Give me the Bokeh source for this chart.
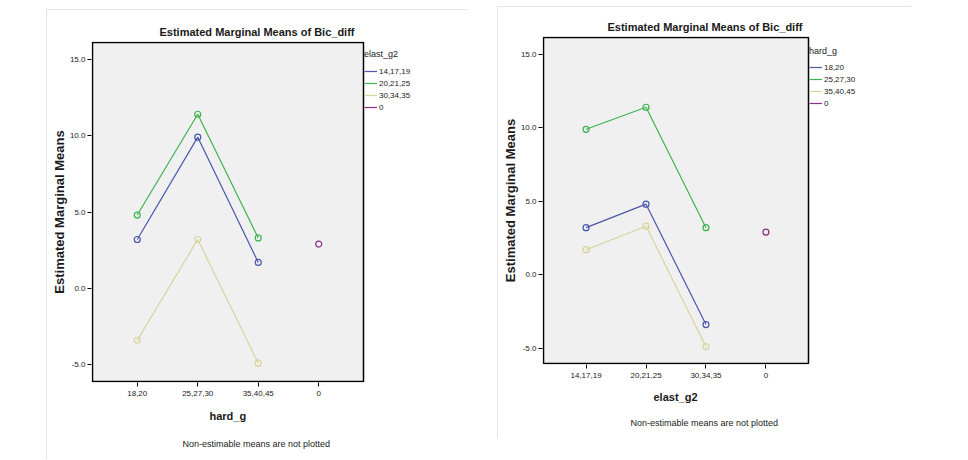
from bokeh.plotting import figure
from bokeh.models import (Range1d, FixedTicker, PrintfTickFormatter, Title,
                          Legend, LegendItem)
from bokeh.layouts import row
from bokeh.embed import file_html
from bokeh.resources import INLINE

# ---------------- data ----------------
hard_cats = ["18,20", "25,27,30", "35,40,45", "0"]
elast_cats = ["14,17,19", "20,21,25", "30,34,35", "0"]

# estimated marginal means, rows = elast_g2 group, columns = hard_g group
elast_14_17_19 = [3.2, 9.9, 1.7]
elast_20_21_25 = [4.8, 11.4, 3.3]
elast_30_34_35 = [-3.4, 3.2, -4.9]
elast_0_hard_0 = 2.9

y_ticks = [-5, 0, 5, 10, 15]

colors = ["#4a57ad", "#3db44f", "#d6d49c", "#8a2d82"]

SANS = "Liberation Sans"
TXT = "#1a1a1a"


def make_panel(fig, box, xr, yr, xcats, series, leg_title, leg_labels,
               xlabel, offs, stand, leg):
    fw, fh, margin = fig
    bl, br, bt, bb = box          # plot box edges, in figure pixels
    ppx = (br - bl) / (xr[1] - xr[0])
    ppy = (bb - bt) / (yr[1] - yr[0])
    fl, ft, fb = bl - 1, bt - 1, bb + 1
    p = figure(width=fw, height=fh, output_backend="svg",
               toolbar_location=None,
               x_range=Range1d(xr[0] - 1 / ppx, xr[1] + (fw - br) / ppx),
               y_range=Range1d(yr[0] - 1 / ppy, yr[1] + 1 / ppy),
               min_border_left=fl, min_border_right=0, min_border_top=ft,
               min_border_bottom=fh - fb)
    p.frame_align = False
    p.margin = margin
    p.styles = {"border-left": "1px solid #e4e4e4",
                "border-top": "1px solid #e4e4e4"}
    p.background_fill_color = "white"
    p.border_fill_color = "white"
    p.outline_line_color = None
    p.grid.visible = False

    # plot box (grey area with black frame)
    p.quad(left=xr[0], right=xr[1], bottom=yr[0], top=yr[1],
           fill_color="#f0f0f0", line_color="black", line_width=1.5,
           level="underlay")

    xs = [1, 2, 3, 4]
    items = []
    for i, vals in enumerate(series):
        xv = xs[:len(vals)] if len(vals) > 1 else [4]
        r = p.line(xv, vals, line_color=colors[i], line_width=1.2)
        p.scatter(xv, vals, marker="circle", size=6, fill_color=None,
                  line_color=colors[i], line_width=1.2)
        items.append(LegendItem(label=leg_labels[i], renderers=[r]))

    # axes
    p.xaxis.ticker = FixedTicker(ticks=xs)
    p.xaxis.major_label_overrides = {x: c for x, c in zip(xs, xcats)}
    p.yaxis.ticker = FixedTicker(ticks=y_ticks)
    p.yaxis.formatter = PrintfTickFormatter(format="%.1f")
    for ax in (p.xaxis, p.yaxis):
        ax.axis_line_color = None
        ax.major_tick_line_color = "black"
        ax.major_tick_in = 0
        ax.major_tick_out = 4
        ax.minor_tick_line_color = None
        ax.major_label_text_font = SANS
        ax.major_label_text_font_size = "8px"
        ax.major_label_text_color = TXT
    p.xaxis.major_label_standoff = 4
    p.yaxis.major_label_standoff = 2
    p.yaxis.axis_label = "Estimated Marginal Means"
    p.yaxis.axis_label_text_font = SANS
    p.yaxis.axis_label_text_font_style = "bold"
    p.yaxis.axis_label_text_font_size = "13px"
    p.yaxis.axis_label_standoff = 0
    p.yaxis.axis_label_text_color = TXT

    # title above
    p.title.text = "Estimated Marginal Means of Bic_diff"
    p.title.align = "left"
    p.title.offset = offs[0]
    p.title.vertical_align = "top"
    p.title.text_font = SANS
    p.title.text_font_style = "bold"
    p.title.text_font_size = "11px"
    p.title.text_color = TXT
    p.title.standoff = stand[0]

    # x axis title and footnote below
    p.add_layout(Title(text=xlabel, align="left", offset=offs[1],
                       vertical_align="bottom", standoff=stand[1],
                       text_font=SANS, text_font_style="bold",
                       text_font_size="11px", text_color=TXT), "below")
    p.add_layout(Title(text="Non-estimable means are not plotted", align="left",
                       offset=offs[2], vertical_align="bottom", standoff=stand[2],
                       text_font=SANS, text_font_style="normal",
                       text_font_size="9px", text_color=TXT), "below")

    # legend at the right of the plot box
    leg_top, leg_stand = leg
    leg_h = 12 + leg_stand + 12 * len(items)
    legend = Legend(items=items, title=leg_title,
                    location=(br + 1 - fl, fb - (leg_top + leg_h)),
                    margin=0, padding=0, spacing=0, glyph_width=13,
                    glyph_height=12, label_height=12, label_standoff=2,
                    label_text_font=SANS, label_text_font_size="8px",
                    label_text_color=TXT, title_text_font=SANS,
                    title_text_font_size="9px", title_text_font_style="normal",
                    title_text_color=TXT, title_standoff=leg_stand,
                    border_line_color=None, background_fill_alpha=0)
    p.add_layout(legend)
    return p


left_series = [elast_14_17_19, elast_20_21_25, elast_30_34_35, [elast_0_hard_0]]
right_series = [
    [elast_14_17_19[0], elast_20_21_25[0], elast_30_34_35[0]],
    [elast_14_17_19[1], elast_20_21_25[1], elast_30_34_35[1]],
    [elast_14_17_19[2], elast_20_21_25[2], elast_30_34_35[2]],
    [elast_0_hard_0],
]

# left panel: page origin (47, 10); right panel: page origin (499, 7)
p1 = make_panel((421, 450, (9, 0, 0, 46)), (45, 316, 32, 371),
                (0.26, 4.74), (-6.1, 16.1), hard_cats,
                left_series, "elast_g2", elast_cats, "hard_g",
                (68, 118, 91), (4, 18, 12), (37, 6))
p2 = make_panel((414, 432, (6, 55, 0, 30)), (45, 310, 30, 356),
                (0.29, 4.71), (-6.05, 16.15), elast_cats,
                right_series, "hard_g", hard_cats, "elast_g2",
                (65, 111, 88), (3, 16, 10), (37, 5))

layout = row(p1, p2)
open("out.html", "w").write(file_html(layout, INLINE))
